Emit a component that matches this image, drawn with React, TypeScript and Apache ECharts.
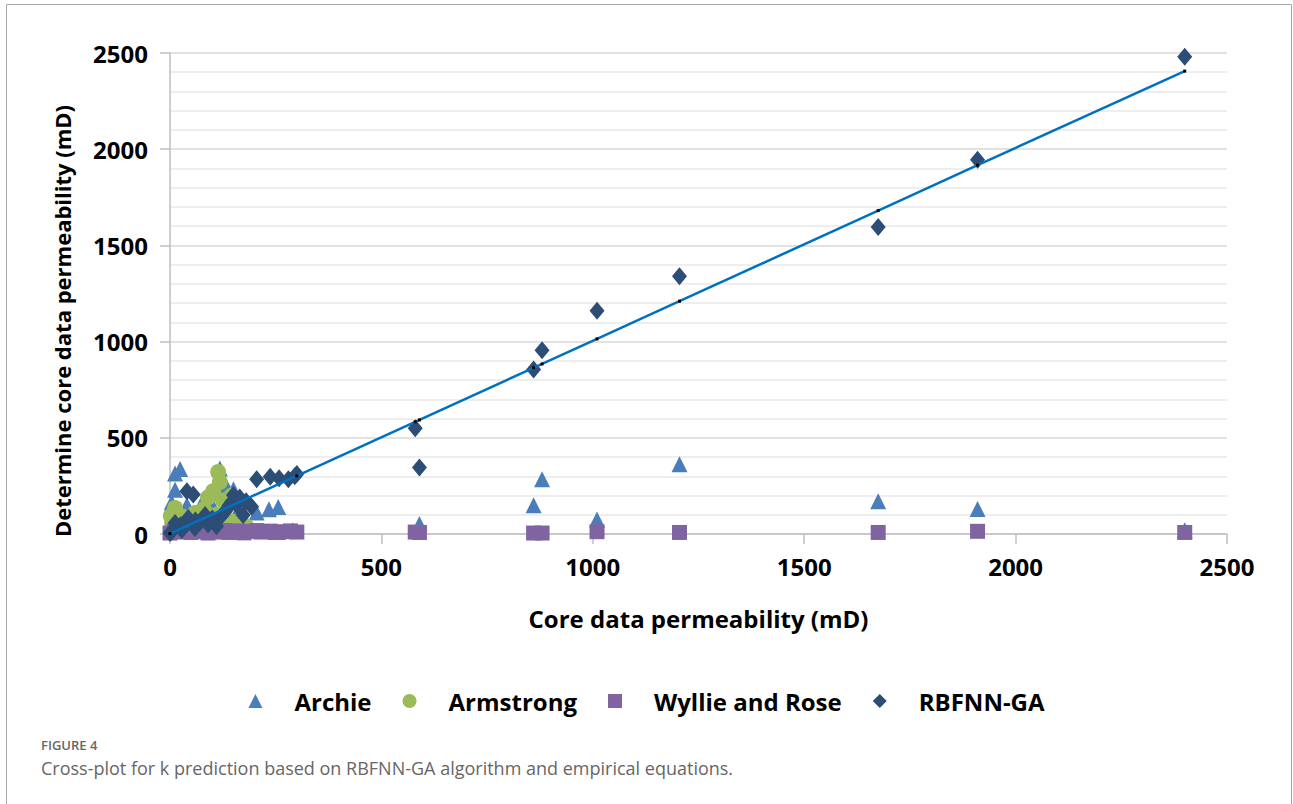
import React, { useEffect, useRef } from "react";
import * as echarts from "echarts";

const archie: [number, number][] = [
  [2400, 20], [1910, 130], [1675, 170], [1205, 362], [1010, 75], [880, 285], [860, 150], [590, 52],
  [12, 315], [24, 338], [118, 340], [12, 230], [4, 165], [40, 151], [75, 160], [134, 246],
  [150, 232], [205, 112], [234, 128], [256, 140], [20, 110], [100, 150], [160, 120], [60, 80],
  [30, 60], [180, 60], [290, 20], [250, 10],
];

const armstrong: [number, number][] = [
  [114, 322], [118, 270], [102, 222], [90, 190], [146, 200], [2, 95], [59, 109], [12, 135],
  [134, 73], [149, 64], [161, 57], [30, 90], [45, 60], [80, 130], [70, 40], [20, 30],
  [180, 40], [5, 60], [110, 100], [125, 175],
];

const wyllieRose: [number, number][] = [
  [2400, 8], [1910, 14], [1675, 8], [1205, 8], [1010, 12], [880, 5], [860, 5], [590, 8], [580, 10],
  [0, 5], [10, 15], [20, 18], [30, 10], [40, 16], [50, 8], [60, 18], [70, 12], [80, 15], [90, 5],
  [100, 16], [110, 10], [120, 14], [130, 18], [140, 8], [150, 12], [160, 16], [175, 6], [190, 14],
  [205, 18], [215, 10], [237, 15], [256, 8], [272, 12], [285, 16], [300, 10],
];

const rbfnnGa: [number, number][] = [
  [2400, 2480], [1910, 1945], [1675, 1595], [1205, 1340], [1010, 1160], [880, 955], [860, 855],
  [580, 550], [590, 345],
  [205, 285], [237, 298], [258, 290], [280, 285], [300, 312], [295, 300],
  [150, 203], [158, 151], [193, 142], [173, 99], [146, 168], [130, 116], [106, 64], [83, 99],
  [40, 222], [55, 205], [12, 57], [43, 83], [4, 12], [0, 5], [28, 21], [59, 31], [70, 60],
  [90, 50], [120, 90], [140, 150], [165, 190], [180, 170], [100, 80], [25, 45], [60, 70],
  [110, 40], [135, 130],
];

const trendLine: [number, number][] = [
  [0, 2], [300, 302], [580, 583], [590, 593], [860, 864], [880, 884], [1010, 1014],
  [1205, 1210], [1675, 1681], [1910, 1917], [2400, 2406],
];

const seriesNames = ["Archie", "Armstrong", "Wyllie and Rose", "RBFNN-GA"];
const xTitle = "Core data permeability (mD)";
const yTitle = "Determine core data permeability (mD)";
const figureLabel = "FIGURE 4";
const captionText = "Cross-plot for k prediction based on RBFNN-GA algorithm and empirical equations.";

const FONT = "'Open Sans', Lato, sans-serif";

export default function App() {
  const ref = useRef<HTMLDivElement>(null);
  useEffect(() => {
    if (!ref.current) return;
    const chart = echarts.init(ref.current, undefined, { renderer: "svg" });
    const axisLabelStyle = { fontSize: 24, fontWeight: "bold" as const, color: "#000", fontFamily: FONT };
    chart.setOption({
      animation: false,
      backgroundColor: "#fff",
      grid: { left: 170, right: 66, top: 53, bottom: 270, containLabel: false },
      xAxis: {
        type: "value",
        min: 0,
        max: 2500,
        interval: 500,
        axisLine: { show: true, onZero: false, lineStyle: { color: "#bfbfbf", width: 1.5 } },
        axisTick: { show: true, length: 10, lineStyle: { color: "#bfbfbf", width: 1.5 } },
        splitLine: { show: false },
        axisLabel: { ...axisLabelStyle, margin: 20, formatter: (v: number) => String(v) },
        name: xTitle,
        nameLocation: "middle",
        nameGap: 72,
        nameTextStyle: axisLabelStyle,
      },
      yAxis: {
        type: "value",
        min: 0,
        max: 2500,
        interval: 500,
        axisLine: { show: true, lineStyle: { color: "#bfbfbf", width: 1.5 } },
        axisTick: { show: true, length: 10, lineStyle: { color: "#bfbfbf", width: 1.5 } },
        splitLine: { show: true, lineStyle: { color: "#d9d9d9", width: 1.5 } },
        minorTick: { show: false, splitNumber: 5 },
        minorSplitLine: { show: true, lineStyle: { color: "#e8e8e8", width: 1.5 } },
        axisLabel: { ...axisLabelStyle, margin: 22, formatter: (v: number) => String(v) },
      },
      legend: {
        top: 684,
        left: "center",
        itemWidth: 14,
        itemHeight: 14,
        itemGap: 31,
        data: seriesNames,
        textStyle: { ...axisLabelStyle, padding: [0, 0, 0, 27] },
      },
      series: [
        {
          name: seriesNames[0],
          type: "scatter",
          symbol: "triangle",
          symbolSize: 16,
          itemStyle: { color: "#4a7ebb", opacity: 1 },
          data: archie,
        },
        {
          name: seriesNames[1],
          type: "scatter",
          symbol: "circle",
          symbolSize: 16,
          itemStyle: { color: "#9bbb59", opacity: 1 },
          data: armstrong,
        },
        {
          name: seriesNames[2],
          type: "scatter",
          symbol: "rect",
          symbolSize: 15,
          itemStyle: { color: "#8064a2", opacity: 1 },
          data: wyllieRose,
        },
        {
          name: seriesNames[3],
          type: "scatter",
          symbol: "diamond",
          symbolSize: [15, 18],
          itemStyle: { color: "#2c4d75", opacity: 1 },
          data: rbfnnGa,
        },
        {
          name: "trend",
          type: "line",
          symbol: "rect",
          symbolSize: 3,
          showSymbol: true,
          itemStyle: { color: "#000" },
          lineStyle: { color: "#0070c0", width: 2.5 },
          data: trendLine,
          z: 5,
        },
      ],
      graphic: [
        {
          type: "rect",
          shape: { x: 6.5, y: 4.5, width: 1285, height: 900 },
          style: { fill: "none", stroke: "#a6a6a6", lineWidth: 1 },
          silent: true,
        },
        {
          type: "text",
          x: 62,
          y: 321,
          rotation: Math.PI / 2,
          style: {
            text: yTitle,
            fontSize: 22,
            fontWeight: "bold",
            fill: "#000",
            fontFamily: FONT,
            align: "center",
            verticalAlign: "middle",
          },
        },
        {
          type: "text",
          x: 41,
          y: 745,
          style: {
            text: figureLabel,
            fontSize: 13,
            fontWeight: 600,
            fill: "#666",
            fontFamily: "'Open Sans', sans-serif",
            verticalAlign: "middle",
          },
        },
        {
          type: "text",
          x: 41,
          y: 768,
          style: {
            text: captionText,
            fontSize: 18,
            fill: "#666",
            fontFamily: "'Open Sans', sans-serif",
            verticalAlign: "middle",
          },
        },
      ],
    });
    return () => chart.dispose();
  }, []);
  return (
    <div
      ref={ref}
      style={{ position: "fixed", left: 0, top: 0, width: 1293, height: 804 }}
    />
  );
}
